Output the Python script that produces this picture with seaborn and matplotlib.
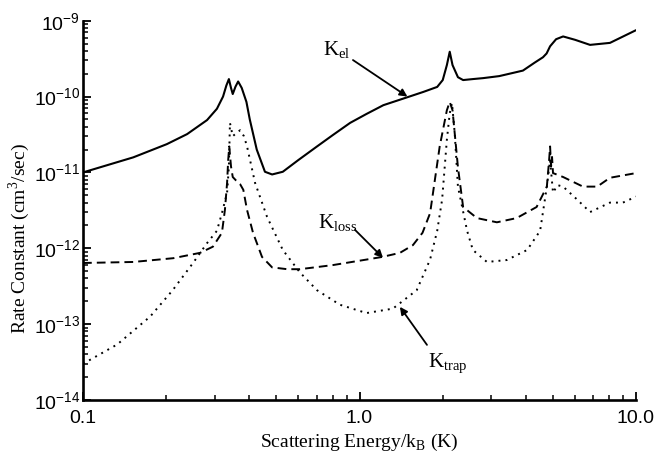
import numpy as np
import pandas as pd
import matplotlib
matplotlib.use("Agg")
import matplotlib.pyplot as plt
import matplotlib.ticker as mticker
import seaborn as sns

# ---- data ----
el_energy = [0.100, 0.152, 0.201, 0.238, 0.281, 0.305, 0.321, 0.330, 0.337, 0.343, 0.348,
             0.356, 0.364, 0.375, 0.390, 0.401, 0.425, 0.455, 0.483, 0.528, 0.600, 0.702,
             0.800, 0.925, 1.06, 1.22, 1.49, 1.70, 1.91, 2.00, 2.07, 2.12, 2.17, 2.27, 2.37,
             2.57, 2.80, 3.20, 3.59, 3.90, 4.30, 4.61, 4.75, 4.89, 5.14, 5.45, 6.02, 6.82, 8.05, 10.0]
k_el = [1.0e-11, 1.58e-11, 2.36e-11, 3.2e-11, 4.9e-11, 6.9e-11, 1.0e-10, 1.4e-10, 1.7e-10,
        1.3e-10, 1.08e-10, 1.35e-10, 1.58e-10, 1.3e-10, 8.5e-11, 5.0e-11, 2.0e-11, 1.02e-11,
        9.4e-12, 1.02e-11, 1.45e-11, 2.2e-11, 3.1e-11, 4.5e-11, 5.9e-11, 7.7e-11, 9.8e-11,
        1.15e-10, 1.34e-10, 1.65e-10, 2.6e-10, 3.9e-10, 2.6e-10, 1.8e-10, 1.65e-10, 1.7e-10,
        1.75e-10, 1.86e-10, 2.05e-10, 2.2e-10, 2.8e-10, 3.3e-10, 3.7e-10, 4.6e-10, 5.7e-10, 6.2e-10,
        5.6e-10, 4.8e-10, 5.1e-10, 7.5e-10]

loss_energy = [0.100, 0.152, 0.212, 0.265, 0.295, 0.318, 0.326, 0.332, 0.335, 0.338, 0.343,
               0.348, 0.358, 0.370, 0.380, 0.392, 0.412, 0.444, 0.483, 0.548, 0.609, 0.800,
               1.06, 1.21, 1.40, 1.56, 1.69, 1.80, 1.95, 2.07, 2.12, 2.17, 2.27, 2.37, 2.66,
               3.14, 3.70, 4.37, 4.76, 4.85, 4.89, 4.93, 4.97, 5.01, 5.45, 6.43, 7.24, 8.05, 10.0]
k_loss = [6.4e-13, 6.6e-13, 7.4e-13, 8.7e-13, 1.05e-12, 1.6e-12, 3.2e-12, 7.3e-12, 1.45e-11,
          2.2e-11, 1.2e-11, 8.7e-12, 7.8e-12, 7.0e-12, 5.9e-12, 3.2e-12, 1.6e-12, 7.7e-13,
          5.6e-13, 5.3e-13, 5.3e-13, 6.0e-13, 7.1e-13, 7.7e-13, 8.7e-13, 1.1e-12, 1.6e-12,
          2.9e-12, 2.2e-11, 6.6e-11, 8.5e-11, 6.6e-11, 1.17e-11, 3.5e-12, 2.5e-12, 2.2e-12,
          2.5e-12, 3.5e-12, 6.5e-12, 1.45e-11, 2.2e-11, 1.2e-11, 1.6e-11, 9.8e-12, 8.7e-12,
          6.5e-12, 6.5e-12, 8.5e-12, 9.8e-12]

trap_energy = [0.100, 0.133, 0.175, 0.211, 0.250, 0.281, 0.305, 0.318, 0.332, 0.337, 0.340,
               0.348, 0.355, 0.370, 0.382, 0.392, 0.419, 0.463, 0.528, 0.609, 0.702, 0.850,
               1.06, 1.32, 1.61, 1.80, 1.91, 1.99, 2.07, 2.12, 2.16, 2.21, 2.27, 2.45, 2.57,
               2.89, 3.41, 4.04, 4.50, 4.76, 4.89, 5.01, 5.20, 5.45, 6.12, 6.82, 8.05, 8.97, 10.0]
k_trap = [3.0e-14, 5.4e-14, 1.26e-13, 2.8e-13, 6.4e-13, 1.17e-12, 1.7e-12, 2.9e-12, 5.4e-12,
          1.2e-11, 4.5e-11, 3.0e-11, 3.2e-11, 3.6e-11, 3.0e-11, 2.2e-11, 7.3e-12, 2.6e-12,
          9.5e-13, 4.8e-13, 2.8e-13, 1.8e-13, 1.4e-13, 1.6e-13, 2.8e-13, 7.1e-13, 1.7e-12,
          4.4e-12, 2.7e-11, 6.0e-11, 8.2e-11, 3.3e-11, 6.5e-12, 1.7e-12, 9.5e-13, 6.6e-13,
          7.0e-13, 9.5e-13, 1.7e-12, 6.5e-12, 1.45e-11, 5.4e-12, 6.8e-12, 6.5e-12, 4.4e-12,
          3.0e-12, 4.0e-12, 4.0e-12, 4.8e-12]

x_tick_values = [0.1, 1.0, 10.0]
x_tick_labels = ["0.1", "1.0", "10.0"]
x_label = "Scattering Energy/k$_{\\mathdefault{B}}$ (K)"
y_label = "Rate Constant (cm$^{\\mathdefault{3}}$/sec)"

# ---- styling ----
sns.set_theme(style="ticks")
plt.rcParams["font.family"] = ["Liberation Sans", "DejaVu Sans"]
plt.rcParams["mathtext.fontset"] = "custom"
plt.rcParams["mathtext.rm"] = "Liberation Sans"

fig = plt.figure(figsize=(6.69, 4.65), dpi=100)
ax = fig.add_axes([83 / 669, 65 / 465, (636 - 83) / 669, (400 - 20.7) / 465])

df_el = pd.DataFrame({"energy": el_energy, "k": k_el})
df_loss = pd.DataFrame({"energy": loss_energy, "k": k_loss})
df_trap = pd.DataFrame({"energy": trap_energy, "k": k_trap})

sns.lineplot(data=df_el, x="energy", y="k", ax=ax, color="black", lw=1.5,
             estimator=None, errorbar=None, sort=False)
sns.lineplot(data=df_loss, x="energy", y="k", ax=ax, color="black", lw=1.4,
             linestyle=(0, (4.5, 2.6)), estimator=None, errorbar=None, sort=False)
sns.lineplot(data=df_trap, x="energy", y="k", ax=ax, color="black", lw=1.4,
             linestyle=(0, (1.0, 2.6)), estimator=None, errorbar=None, sort=False)

ax.set_xscale("log")
ax.set_yscale("log")
ax.set_xlim(0.1, 10.0)
ax.set_ylim(1e-14, 1e-9)

ax.xaxis.set_major_locator(mticker.FixedLocator(x_tick_values))
ax.xaxis.set_major_formatter(mticker.FixedFormatter(x_tick_labels))
ax.xaxis.set_minor_locator(mticker.LogLocator(base=10, subs=np.arange(2, 10), numticks=20))
ax.xaxis.set_minor_formatter(mticker.NullFormatter())
ax.yaxis.set_major_locator(mticker.LogLocator(base=10, numticks=20))
ax.yaxis.set_major_formatter(mticker.LogFormatterMathtext())
ax.yaxis.set_minor_locator(mticker.LogLocator(base=10, subs=np.arange(2, 10), numticks=20))
ax.yaxis.set_minor_formatter(mticker.NullFormatter())
ax.xaxis.get_offset_text().set_visible(False)
ax.yaxis.get_offset_text().set_visible(False)

for s in ["top", "right"]:
    ax.spines[s].set_visible(False)
for s in ["left", "bottom"]:
    ax.spines[s].set_linewidth(1.9)
    ax.spines[s].set_color("black")

ax.tick_params(axis="both", which="major", direction="in", length=6, width=1.3,
               color="black", labelsize=14, labelcolor="black")
ax.tick_params(axis="both", which="minor", direction="in", length=3.5, width=1.1, color="black")
ax.tick_params(axis="y", which="major", pad=2)
ax.tick_params(axis="x", which="major", pad=7)

ax.set_xlabel(x_label, family="Liberation Serif", fontsize=14, color="black")
ax.set_ylabel(y_label, family="Liberation Serif", fontsize=14, color="black")
ax.xaxis.set_label_coords(0.5, -0.085)
ax.yaxis.set_label_coords(-0.092, 0.425)

arrow = dict(arrowstyle="-|>", color="black", lw=1.3, mutation_scale=11, shrinkA=0, shrinkB=0)
ax.annotate("", xy=(1.49, 1.0e-10), xytext=(0.947, 3.03e-10), arrowprops=arrow)
ax.annotate("", xy=(1.216, 7.5e-13), xytext=(0.963, 1.75e-12), arrowprops=arrow)
ax.annotate("", xy=(1.40, 1.69e-13), xytext=(1.754, 5.33e-14), arrowprops=arrow)

lab = dict(family="Liberation Serif", fontsize=15, color="black", ha="left", va="baseline")
ax.text(0.738, 3.5e-10, "K$_{\\mathdefault{el}}$", **lab)
ax.text(0.708, 1.85e-12, "K$_{\\mathdefault{loss}}$", **lab)
ax.text(1.769, 2.72e-14, "K$_{\\mathdefault{trap}}$", **lab)

fig.savefig("out.png", dpi=100, facecolor="white")
